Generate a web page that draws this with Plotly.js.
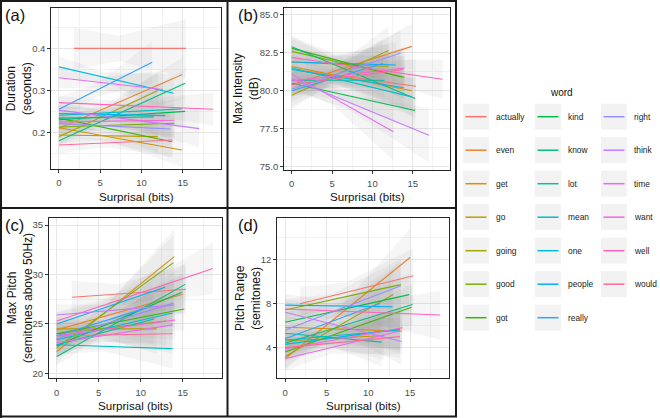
<!DOCTYPE html>
<html>
<head>
<meta charset="utf-8">
<script src="https://cdn.plot.ly/plotly-3.0.1.min.js"></script>
<style>
  html, body { margin: 0; padding: 0; background: #ffffff; }
  #chart { width: 660px; height: 418px; }
</style>
</head>
<body>
<div id="chart"></div>
<script>
// Words (one fitted line + confidence band per word in every panel)
const words = ["actually","even","get","go","going","good","got",
               "kind","know","lot","mean","one","people","really",
               "right","think","time","want","well","would"];
const wordColors = ["#F8766D","#EA8331","#D89000","#C09B00","#A3A500","#7CAE00","#39B600",
                    "#00BB4E","#00BF7D","#00C1A3","#00BFC4","#00BAE0","#00B0F6","#35A2FF",
                    "#9590FF","#C77CFF","#E76BF3","#FA62DB","#FF62BC","#FF6A98"];

// Surprisal (bits) span of each word's fit
const surpStart = [1.8,0,0,0,0,0,0, 0,0,0,0,0,0,0, 0,0,0,0,0,0];
const surpEndAB = [15.4,14.9,14.9,12.0,12.0,14.0,13.7, 15.3,15.3,11.5,14.9,13.9,12.9,11.3, 13.5,17.0,12.6,14.0,18.7,13.8];
const surpEndCD = [15.4,15.0,14.0,11.9,13.0,13.9,15.2, 14.9,15.3,11.6,13.8,13.8,12.9,11.4, 13.9,14.0,13.8,14.1,18.6,13.8];

// (a) Duration (seconds): fitted value at start / end of the span, band half-widths
const durStart = [0.400,0.210,0.211,0.194,0.190,0.213,0.234, 0.230,0.180,0.234,0.241,0.356,0.245,0.255, 0.221,0.253,0.330,0.225,0.271,0.170];
const durEnd   = [0.400,0.337,0.158,0.190,0.300,0.222,0.178, 0.250,0.317,0.237,0.256,0.293,0.240,0.367, 0.208,0.209,0.302,0.229,0.255,0.182];
const durBandStart = [0.050,0.020,0.020,0.020,0.020,0.020,0.020, 0.015,0.015,0.020,0.020,0.025,0.020,0.030, 0.020,0.020,0.025,0.020,0.015,0.020];
const durBandMid   = [0.030,0.010,0.010,0.012,0.012,0.010,0.010, 0.008,0.008,0.012,0.010,0.012,0.010,0.015, 0.010,0.012,0.012,0.010,0.010,0.010];
const durBandEnd   = [0.070,0.040,0.040,0.040,0.045,0.035,0.040, 0.035,0.035,0.040,0.040,0.045,0.040,0.050, 0.040,0.045,0.045,0.040,0.040,0.040];

// (b) Max Intensity (dB)
const intStart = [81.3,80.4,81.6,81.9,79.7,82.6,82.8, 80.5,82.9,80.7,81.5,81.4,81.9,80.0, 80.1,80.8,81.1,80.65,82.2,80.4];
const intEnd   = [80.3,82.93,80.0,81.6,82.65,80.9,80.9, 78.7,79.5,80.7,79.6,80.2,81.7,81.8, 82.5,77.07,77.3,81.5,80.76,81.4];
const intBandStart = [1.2,0.8,0.8,0.9,0.9,0.8,0.8, 0.7,0.7,0.9,0.8,0.8,0.8,1.0, 0.8,0.8,0.9,0.8,0.7,0.8];
const intBandMid   = [0.7,0.4,0.4,0.5,0.5,0.4,0.4, 0.35,0.35,0.5,0.4,0.45,0.4,0.5, 0.45,0.45,0.5,0.4,0.4,0.4];
const intBandEnd   = [1.8,1.5,1.3,1.5,1.6,1.4,1.4, 1.3,1.3,1.5,1.3,1.4,1.5,1.6, 1.5,1.8,1.9,1.4,1.3,1.4];

// (c) Max Pitch (semitones above 50Hz)
const pitchStart = [27.7,24.4,22.2,24.5,24.0,22.6,24.0, 22.8,21.7,22.9,22.9,23.4,25.0,23.8, 23.5,25.9,23.1,23.8,25.3,23.8];
const pitchEnd   = [28.5,28.0,31.8,24.5,25.3,31.2,26.5, 28.2,29.0,25.5,22.5,26.1,28.7,26.8, 27.1,26.9,24.9,25.4,30.6,24.0];
const pitchBandStart = [1.7,1.0,1.2,1.2,1.2,1.1,1.0, 0.9,0.9,1.3,1.0,1.0,1.1,1.3, 1.1,1.1,1.2,1.0,0.9,1.0];
const pitchBandMid   = [1.0,0.5,0.6,0.7,0.6,0.6,0.5, 0.5,0.5,0.7,0.5,0.5,0.6,0.7, 0.6,0.6,0.6,0.5,0.5,0.5];
const pitchBandEnd   = [2.5,2.0,2.8,2.5,2.5,2.8,2.2, 2.0,2.2,2.5,2.0,2.0,2.4,2.6, 2.4,2.2,2.3,2.0,2.6,2.0];

// (d) Pitch Range (semitones)
const rangeStart = [7.98,3.0,5.85,4.6,3.2,7.4,3.6, 6.3,4.4,5.3,4.7,4.3,7.85,4.8, 5.6,7.2,3.0,3.9,7.5,4.0];
const rangeEnd   = [10.5,12.15,5.5,5.1,8.8,9.7,7.65, 8.8,7.9,4.5,5.6,5.7,7.7,8.0, 9.6,4.55,5.5,5.8,6.95,5.0];
const rangeBandStart = [1.5,1.0,1.0,1.1,1.1,1.0,0.9, 0.9,0.9,1.2,1.0,1.0,1.0,1.2, 1.0,1.0,1.1,1.0,0.9,1.0];
const rangeBandMid   = [0.9,0.5,0.5,0.6,0.6,0.5,0.5, 0.5,0.45,0.6,0.5,0.5,0.55,0.6, 0.55,0.55,0.55,0.5,0.5,0.5];
const rangeBandEnd   = [2.5,2.6,2.0,2.2,2.4,2.3,2.0, 1.9,1.9,2.2,1.8,1.9,2.0,2.3, 2.2,2.1,2.1,1.9,2.2,1.9];

// ---- drawing ----
const W = 660, H = 418;
const px = v => v / W;          // pixel -> paper x
const py = v => 1 - v / H;      // pixel -> paper y
const FONT = "Liberation Sans, Arial, Helvetica, sans-serif";

const panels = [
  {sfx: "",  xEnd: surpEndAB, y0: durStart,   y1: durEnd,   bs: durBandStart,   bm: durBandMid,   be: durBandEnd},
  {sfx: "2", xEnd: surpEndAB, y0: intStart,   y1: intEnd,   bs: intBandStart,   bm: intBandMid,   be: intBandEnd},
  {sfx: "3", xEnd: surpEndCD, y0: pitchStart, y1: pitchEnd, bs: pitchBandStart, bm: pitchBandMid, be: pitchBandEnd},
  {sfx: "4", xEnd: surpEndCD, y0: rangeStart, y1: rangeEnd, bs: rangeBandStart, bm: rangeBandMid, be: rangeBandEnd}
];

const bands = [], lines = [];
panels.forEach(p => {
  words.forEach((w, i) => {
    const xa = surpStart[i], xb = p.xEnd[i];
    const ya = p.y0[i], yb = p.y1[i];
    const xm = xa + 0.4 * (xb - xa);
    const ym = ya + 0.4 * (yb - ya);
    bands.push({
      type: "scatter", mode: "lines", xaxis: "x" + p.sfx, yaxis: "y" + p.sfx,
      x: [xa, xm, xb, xb, xm, xa, xa],
      y: [ya + p.bs[i], ym + p.bm[i], yb + p.be[i], yb - p.be[i], ym - p.bm[i], ya - p.bs[i], ya + p.bs[i]],
      fill: "toself", fillcolor: "rgba(153,153,153,0.10)", line: {width: 0},
      hoverinfo: "skip", showlegend: false
    });
    lines.push({
      type: "scatter", mode: "lines", xaxis: "x" + p.sfx, yaxis: "y" + p.sfx,
      x: [xa, xb], y: [ya, yb], name: w,
      line: {color: wordColors[i], width: 1.1},
      showlegend: false
    });
  });
});

function xAxis(l, r, anchor) {
  return {
    domain: [px(l), px(r)], anchor: anchor, range: [-0.93, 19.63],
    tick0: 0, dtick: 5, showgrid: true, gridcolor: "#E6E6E6", gridwidth: 1,
    minor: {tick0: 0, dtick: 2.5, showgrid: true, gridcolor: "#F2F2F2", gridwidth: 1},
    zeroline: false, showline: true, mirror: true, linecolor: "#262626", linewidth: 1,
    ticks: "outside", ticklen: 3, tickcolor: "#333333",
    tickfont: {size: 9.5, color: "#4D4D4D", family: FONT}, ticklabelstandoff: 2
  };
}
function yAxis(t, b, anchor, range, dtick, minorStep, fmt) {
  return {
    domain: [py(b), py(t)], anchor: anchor, range: range,
    tick0: 0, dtick: dtick, tickformat: fmt, showgrid: true, gridcolor: "#E6E6E6", gridwidth: 1,
    minor: {tick0: 0, dtick: minorStep, showgrid: true, gridcolor: "#F2F2F2", gridwidth: 1},
    zeroline: false, showline: true, mirror: true, linecolor: "#262626", linewidth: 1,
    ticks: "outside", ticklen: 3, tickcolor: "#333333",
    tickfont: {size: 9.5, color: "#4D4D4D", family: FONT}
  };
}

const annotations = [];
const shapes = [];
function txt(x, y, text, size, extra) {
  annotations.push(Object.assign({
    xref: "paper", yref: "paper", x: px(x), y: py(y), text: text, showarrow: false,
    xanchor: "center", yanchor: "middle", font: {size: size, color: "#111111", family: FONT}
  }, extra || {}));
}

// panel tags
txt(3, 15, "(a)", 16.5, {xanchor: "left"});
txt(236, 15, "(b)", 16.5, {xanchor: "left"});
txt(3, 225, "(c)", 16.5, {xanchor: "left"});
txt(236, 225, "(d)", 16.5, {xanchor: "left"});

// axis titles
txt(136, 196, "Surprisal (bits)", 11.6);
txt(367, 196, "Surprisal (bits)", 11.6);
txt(135, 405.5, "Surprisal (bits)", 11.6);
txt(363, 405, "Surprisal (bits)", 11.6);
txt(19, 89, "Duration<br>(seconds)", 12, {textangle: -90});
txt(246, 89, "Max Intensity<br>(dB)", 12, {textangle: -90});
txt(20, 298, "Max Pitch<br>(semitones above 50Hz)", 12, {textangle: -90});
txt(248, 298, "Pitch Range<br>(semitones)", 12, {textangle: -90});

// legend: three columns, keys on a light grey square
txt(561, 92, "word", 10);
const colKeyX = [463, 535, 601];
const rowsPerCol = 7;
words.forEach((w, i) => {
  const c = Math.floor(i / rowsPerCol), r = i % rowsPerCol;
  const kx = colKeyX[c], cy = 116.7 + r * 33.5;
  shapes.push({type: "rect", xref: "paper", yref: "paper",
    x0: px(kx), x1: px(kx + 26), y0: py(cy + 13), y1: py(cy - 13),
    fillcolor: "#F2F2F2", line: {width: 0}, layer: "above"});
  shapes.push({type: "line", xref: "paper", yref: "paper",
    x0: px(kx + 2.5), x1: px(kx + 23.5), y0: py(cy), y1: py(cy),
    line: {color: wordColors[i], width: 1.5}, layer: "above"});
  txt(kx + 32, cy, w, 8.4, {xanchor: "left", borderpad: 0, font: {size: 8.4, color: "#1A1A1A", family: FONT}});
});

// outer frame and panel dividers
const frame = (x0, y0, x1, y1) => shapes.push({type: "line", xref: "paper", yref: "paper",
  x0: px(x0), y0: py(y0), x1: px(x1), y1: py(y1), line: {color: "#1A1A1A", width: 2}, layer: "above"});
frame(0, 1, 457, 1);
frame(1, 0, 1, 418);
frame(456, 0, 456, 417);
frame(0, 416.5, 457, 416.5);
frame(227.5, 0, 227.5, 417);
frame(0, 208, 457, 208);

const layout = {
  width: W, height: H, margin: {l: 0, r: 0, t: 0, b: 0},
  paper_bgcolor: "#ffffff", plot_bgcolor: "#ffffff",
  font: {family: FONT},
  showlegend: false,
  xaxis:  xAxis(51.3, 220.9, "y"),
  yaxis:  yAxis(8, 169, "x",  [0.113, 0.496], 0.1, 0.05, ".1f"),
  xaxis2: xAxis(284.2, 450.1, "y2"),
  yaxis2: yAxis(8, 170, "x2", [74.78, 85.46], 2.5, 1.25, ".1f"),
  xaxis3: xAxis(48.9, 221.6, "y3"),
  yaxis3: yAxis(218.3, 378.3, "x3", [19.5, 35.68], 5, 2.5, "d"),
  xaxis4: xAxis(277.3, 448.6, "y4"),
  yaxis4: yAxis(218.3, 378.3, "x4", [1.23, 15.7], 4, 2, "d"),
  annotations: annotations,
  shapes: shapes
};

Plotly.newPlot("chart", bands.concat(lines), layout, {displayModeBar: false, staticPlot: true});
</script>
</body>
</html>
